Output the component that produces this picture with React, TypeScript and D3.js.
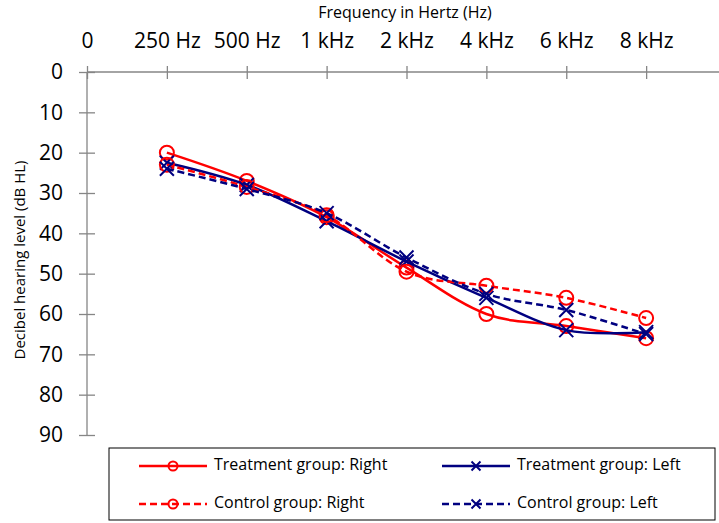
import * as d3 from "d3";
import { useEffect, useRef } from "react";

const categories = ["0", "250 Hz", "500 Hz", "1 kHz", "2 kHz", "4 kHz", "6 kHz", "8 kHz"];
const yTicks = [0, 10, 20, 30, 40, 50, 60, 70, 80, 90];

// values at 250 Hz .. 8 kHz (index 1..7)
const treatmentRight = [20, 27, 36, 48.5, 60, 63, 66];
const treatmentLeft = [22.5, 28, 37, 47, 56, 64, 64.5];
const controlRight = [23, 28.5, 35.5, 49.5, 53, 56, 61];
const controlLeft = [24, 29, 35, 46, 55, 59, 65];

const RED = "#ff0000";
const NAVY = "#000080";
const FONT = "'Open Sans', sans-serif";

const series = [
  { name: "Treatment group: Right", values: treatmentRight, color: RED, dashed: false, marker: "circle" },
  { name: "Treatment group: Left", values: treatmentLeft, color: NAVY, dashed: false, marker: "x" },
  { name: "Control group: Right", values: controlRight, color: RED, dashed: true, marker: "circle" },
  { name: "Control group: Left", values: controlLeft, color: NAVY, dashed: true, marker: "x" },
];

function Marker({ type, x, y, color, r }) {
  if (type === "circle") {
    return <circle cx={x} cy={y} r={r} fill="none" stroke={color} strokeWidth={2} />;
  }
  return (
    <path
      d={`M${x - r},${y - r}L${x + r},${y + r}M${x - r},${y + r}L${x + r},${y - r}`}
      stroke={color}
      strokeWidth={2}
      fill="none"
    />
  );
}

export default function App() {
  const xRef = useRef(null);
  const yRef = useRef(null);

  const x = d3.scaleLinear().domain([0, 8]).range([87, 726]);
  const y = d3.scaleLinear().domain([0, 90]).range([72, 435]);

  const line = d3
    .line<number>()
    .x((d, i) => x(i + 1))
    .y((d) => y(d))
    .curve(d3.curveCardinal.tension(0));

  useEffect(() => {
    const xAxis = d3
      .axisTop(x)
      .tickValues(d3.range(categories.length))
      .tickFormat((i) => categories[i as number])
      .tickSize(6)
      .tickPadding(18);
    const gx = d3.select(xRef.current);
    gx.call(xAxis);
    gx.select(".domain").attr("d", `M${x(0)},0H${x(8)}`);
    gx.selectAll(".tick line").attr("y1", 7);
    gx.selectAll(".tick text").attr("font-size", 21).attr("font-family", FONT).attr("fill", "#000");

    const yAxis = d3.axisLeft(y).tickValues(yTicks).tickSize(8).tickPadding(16);
    const gy = d3.select(yRef.current);
    gy.call(yAxis);
    gy.select(".domain").attr("d", `M0,${y(0)}V${y(90)}`);
    gy.selectAll(".tick line").attr("x1", 8);
    gy.selectAll(".tick text").attr("font-size", 21).attr("font-family", FONT).attr("fill", "#000");

    d3.selectAll(".axis path, .axis line").attr("stroke", "#868686").attr("stroke-width", 1.3);
  }, []);

  const legendCols = [139, 442];
  const legendRows = [466, 504];

  return (
    <svg width={719} height={523} style={{ position: "absolute", left: 0, top: 0, background: "#fff" }}>
      <text x={405} y={18} textAnchor="middle" fontFamily={FONT} fontSize={16}>
        Frequency in Hertz (Hz)
      </text>
      <text
        transform="translate(21,260) rotate(-90)"
        textAnchor="middle"
        dominantBaseline="middle"
        fontFamily={FONT}
        fontSize={15}
      >
        Decibel hearing level (dB HL)
      </text>
      <g className="axis" ref={xRef} transform={`translate(0,${y(0)})`} />
      <g className="axis" ref={yRef} transform={`translate(${x(0)},0)`} />

      {series.map((s) => (
        <g key={s.name}>
          <path
            d={line(s.values) ?? ""}
            fill="none"
            stroke={s.color}
            strokeWidth={2.5}
            strokeDasharray={s.dashed ? "7,4" : undefined}
          />
          {s.values.map((v, i) => (
            <Marker key={i} type={s.marker} x={x(i + 1)} y={y(v)} color={s.color} r={7} />
          ))}
        </g>
      ))}

      <rect x={109} y={448} width={606} height={72} fill="none" stroke="#000" strokeWidth={1} />
      {series.map((s, k) => {
        const lx = legendCols[k % 2];
        const ly = legendRows[Math.floor(k / 2)];
        return (
          <g key={s.name}>
            <line
              x1={lx}
              x2={lx + 68}
              y1={ly}
              y2={ly}
              stroke={s.color}
              strokeWidth={2.5}
              strokeDasharray={s.dashed ? "7,4" : undefined}
            />
            <Marker type={s.marker} x={lx + 34} y={ly} color={s.color} r={4.5} />
            <text x={lx + 75} y={ly} dominantBaseline="middle" fontFamily={FONT} fontSize={16}>
              {s.name}
            </text>
          </g>
        );
      })}
    </svg>
  );
}
